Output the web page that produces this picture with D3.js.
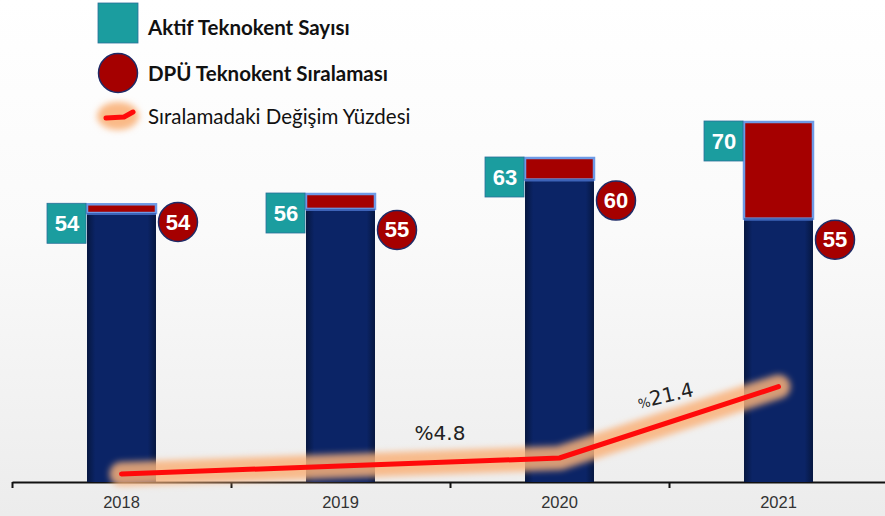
<!DOCTYPE html>
<html>
<head>
<meta charset="utf-8">
<script src="https://cdnjs.cloudflare.com/ajax/libs/d3/7.8.5/d3.min.js"></script>
<style>
  body { margin: 0; background: #fff; }
  svg { display: block; }
</style>
</head>
<body>
<script>
'use strict';

// chart data
const years = ['2018', '2019', '2020', '2021'];
const activeCount = [54, 56, 63, 70];        // Aktif Teknokent Sayısı (total bar height)
const rankLabels = [54, 55, 60, 55];          // DPÜ Teknokent Sıralaması (circle labels)
const navyHeights = [52.3, 53.1, 58.8, 51.2]; // navy part of bar as drawn
const changePct = [0, 2.4, 4.8, 26.2];        // Sıralamadaki Değişim Yüzdesi (line)
const changeLabels = [
  {between: [1, 2], pre: '%', text: '4.8', angle: 0},
  {between: [2, 3], pre: '%', text: '21.4', angle: -13}
];

const W = 885, H = 516;

const svg = d3.select('body').append('svg')
  .attr('width', W)
  .attr('height', H);

const defs = svg.append('defs');

// background gradient
const bg = defs.append('linearGradient').attr('id', 'bg')
  .attr('x1', 0).attr('y1', 0).attr('x2', 0).attr('y2', 1);
bg.append('stop').attr('offset', '0%').attr('stop-color', '#ffffff');
bg.append('stop').attr('offset', '45%').attr('stop-color', '#fafafa');
bg.append('stop').attr('offset', '100%').attr('stop-color', '#ececec');

// navy bar with darker edges
const navy = defs.append('linearGradient').attr('id', 'navy')
  .attr('x1', 0).attr('y1', 0).attr('x2', 1).attr('y2', 0);
navy.append('stop').attr('offset', '0%').attr('stop-color', '#061740');
navy.append('stop').attr('offset', '12%').attr('stop-color', '#0b2466');
navy.append('stop').attr('offset', '88%').attr('stop-color', '#0b2466');
navy.append('stop').attr('offset', '100%').attr('stop-color', '#061740');

const glow = defs.append('filter').attr('id', 'glow')
  .attr('x', '-20%').attr('y', '-100%').attr('width', '140%').attr('height', '300%');
glow.append('feGaussianBlur').attr('stdDeviation', 3);

svg.append('rect').attr('width', W).attr('height', H).attr('fill', 'url(#bg)');

// scales
const x = d3.scaleBand()
  .domain(years)
  .range([12, 888])
  .paddingInner(0.685)
  .paddingOuter(0.3425);

const y = d3.scaleLinear()
  .domain([0, 70])
  .range([482, 122]);

const yLine = d3.scaleLinear()
  .domain([0, 30])
  .range([474, 374]);

const cx = (d) => x(d) + x.bandwidth() / 2;

// axis: boundary ticks + year labels
const bounds = d3.scaleLinear().domain([0, years.length]).range([12, 888]);
svg.append('g')
  .attr('transform', 'translate(0,482)')
  .call(d3.axisBottom(bounds).tickValues(d3.range(0, years.length + 1)).tickFormat('').tickSize(6).tickSizeOuter(0))
  .call(g => g.select('.domain').attr('stroke', '#111').attr('stroke-width', 2))
  .call(g => g.selectAll('.tick line').attr('stroke', '#111').attr('stroke-width', 2));

svg.append('g')
  .attr('transform', 'translate(0,482)')
  .call(d3.axisBottom(x).tickSize(0).tickPadding(14))
  .call(g => g.select('.domain').remove())
  .call(g => g.selectAll('text')
    .attr('fill', '#333')
    .attr('font-family', 'Liberation Sans, Arial, sans-serif')
    .attr('font-size', 16.5));

// bars
const bars = svg.append('g').selectAll('g')
  .data(years)
  .join('g');

// red (upper) part with light blue outline
bars.append('rect')
  .attr('x', (d) => x(d))
  .attr('width', x.bandwidth())
  .attr('y', (d, i) => y(activeCount[i]))
  .attr('height', (d, i) => y(navyHeights[i]) - y(activeCount[i]))
  .attr('fill', '#a50000')
  .attr('stroke', '#6e9ae6')
  .attr('stroke-width', 2.5);

// navy (lower) part
bars.append('rect')
  .attr('x', (d) => x(d))
  .attr('width', x.bandwidth())
  .attr('y', (d, i) => y(navyHeights[i]))
  .attr('height', (d, i) => y(0) - y(navyHeights[i]))
  .attr('fill', 'url(#navy)');

bars.append('line')
  .attr('x1', (d) => x(d))
  .attr('x2', (d) => x(d) + x.bandwidth())
  .attr('y1', (d, i) => y(navyHeights[i]) + 1)
  .attr('y2', (d, i) => y(navyHeights[i]) + 1)
  .attr('stroke', '#3d63b8')
  .attr('stroke-width', 2);

// teal value boxes left of each bar
const box = 40;
bars.append('rect')
  .attr('x', (d) => x(d) - box)
  .attr('y', (d, i) => y(activeCount[i]) - 1)
  .attr('width', box - 1)
  .attr('height', box)
  .attr('fill', '#1b9d9f')
  .attr('stroke', '#2a6f9a')
  .attr('stroke-width', 0.8);

bars.append('text')
  .attr('x', (d) => x(d) - box / 2)
  .attr('y', (d, i) => y(activeCount[i]) + 19)
  .attr('text-anchor', 'middle')
  .attr('dominant-baseline', 'central')
  .attr('fill', '#fff')
  .style('font-family', 'Liberation Sans, Arial, sans-serif')
  .style('font-weight', 'bold')
  .style('font-size', '22px')
  .text((d, i) => activeCount[i]);

// rank circles right of each bar
bars.append('circle')
  .attr('cx', (d) => x(d) + x.bandwidth() + 22)
  .attr('cy', (d, i) => y(navyHeights[i]) + (i === 0 ? 9 : 21))
  .attr('r', 19.5)
  .attr('fill', '#a50000')
  .attr('stroke', '#1e2a66')
  .attr('stroke-width', 1.5);

bars.append('text')
  .attr('x', (d) => x(d) + x.bandwidth() + 22)
  .attr('y', (d, i) => y(navyHeights[i]) + (i === 0 ? 9 : 21))
  .attr('text-anchor', 'middle')
  .attr('dominant-baseline', 'central')
  .attr('fill', '#fff')
  .style('font-family', 'Liberation Sans, Arial, sans-serif')
  .style('font-weight', 'bold')
  .style('font-size', '22px')
  .text((d, i) => rankLabels[i]);

// change line with soft orange glow
const line = d3.line()
  .x((d, i) => cx(years[i]))
  .y((d) => yLine(d));

svg.append('path')
  .datum(changePct)
  .attr('d', line)
  .attr('fill', 'none')
  .attr('stroke', '#f9b27a')
  .attr('stroke-opacity', 0.85)
  .attr('stroke-width', 24)
  .attr('stroke-linecap', 'round')
  .attr('stroke-linejoin', 'round')
  .attr('filter', 'url(#glow)');

svg.append('path')
  .datum(changePct)
  .attr('d', line)
  .attr('fill', 'none')
  .attr('stroke', '#ff0a0a')
  .attr('stroke-width', 5)
  .attr('stroke-linecap', 'round')
  .attr('stroke-linejoin', 'round');

// change labels
changeLabels.forEach((c) => {
  const a = c.between[0], b = c.between[1];
  const mx = (cx(years[a]) + cx(years[b])) / 2;
  const my = (yLine(changePct[a]) + yLine(changePct[b])) / 2;
  const dx = c.angle === 0 ? -10 : -2;
  const dy = c.angle === 0 ? -22 : -20;
  const t = svg.append('text')
    .attr('transform', 'translate(' + (mx + dx) + ',' + (my + dy) + ')rotate(' + c.angle + ')')
    .attr('text-anchor', 'middle')
    .attr('fill', '#222')
    .style('font-family', 'DejaVu Sans, sans-serif')
    .style('font-size', '20px');
  t.append('tspan')
    .style('font-size', c.angle === 0 ? '20px' : '13px')
    .text(c.pre);
  t.append('tspan').text(c.text);
});

// legend
const legend = svg.append('g');
const legendFont = 'Lato, Open Sans, sans-serif';

legend.append('rect')
  .attr('x', 98).attr('y', 3)
  .attr('width', 40).attr('height', 40)
  .attr('fill', '#1b9d9f')
  .attr('stroke', '#2a6f9a')
  .attr('stroke-width', 0.8);
legend.append('text')
  .attr('x', 148).attr('y', 27)
  .attr('dominant-baseline', 'central')
  .attr('fill', '#111')
  .style('font-family', legendFont)
  .style('font-weight', 'bold')
  .style('font-size', '20.5px')
  .text('Aktif Teknokent Sayısı');

legend.append('circle')
  .attr('cx', 118).attr('cy', 73).attr('r', 19.5)
  .attr('fill', '#a50000')
  .attr('stroke', '#1e2a66')
  .attr('stroke-width', 1.5);
legend.append('text')
  .attr('x', 148).attr('y', 73)
  .attr('dominant-baseline', 'central')
  .attr('fill', '#111')
  .style('font-family', legendFont)
  .style('font-weight', 'bold')
  .style('font-size', '20.5px')
  .text('DPÜ Teknokent Sıralaması');

legend.append('ellipse')
  .attr('cx', 118).attr('cy', 116)
  .attr('rx', 21).attr('ry', 14)
  .attr('fill', '#f9b27a')
  .attr('fill-opacity', 0.9)
  .attr('filter', 'url(#glow)');
legend.append('path')
  .attr('d', 'M106,118L124,117L133,112')
  .attr('fill', 'none')
  .attr('stroke', '#ff0a0a')
  .attr('stroke-width', 5)
  .attr('stroke-linecap', 'round')
  .attr('stroke-linejoin', 'round');
legend.append('text')
  .attr('x', 148).attr('y', 116)
  .attr('dominant-baseline', 'central')
  .attr('fill', '#111')
  .style('font-family', legendFont)
  .style('font-size', '20.5px')
  .text('Sıralamadaki Değişim Yüzdesi');
</script>
</body>
</html>
